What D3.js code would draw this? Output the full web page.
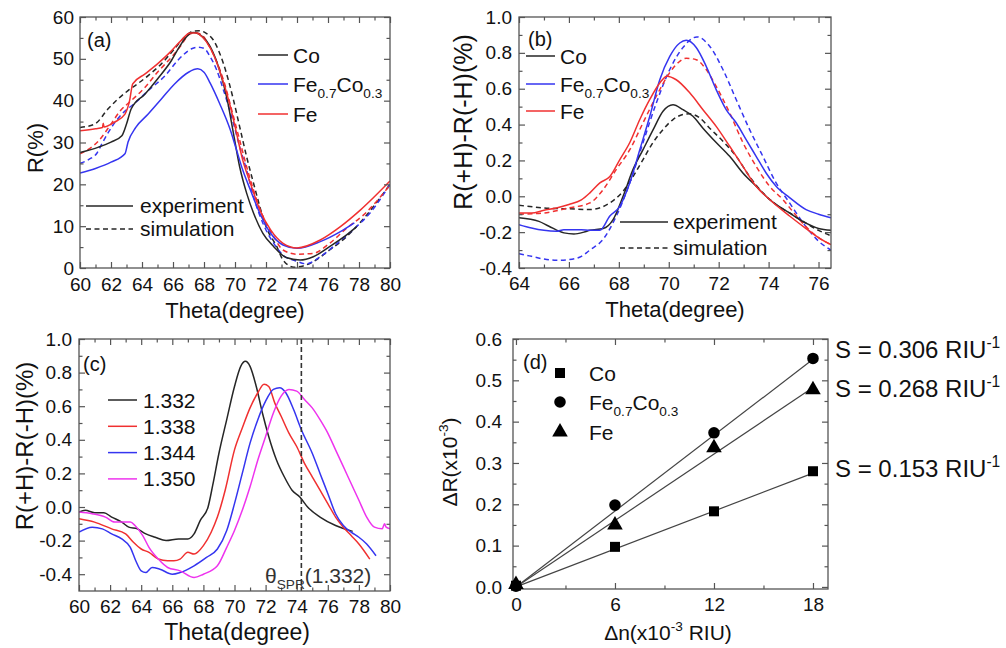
<!DOCTYPE html>
<html>
<head>
<meta charset="utf-8">
<script src="https://cdn.jsdelivr.net/npm/d3@7"></script>
<style>
    body { margin: 0; background: #fff; }
    svg { font-family: "Liberation Sans", Arial, Helvetica, sans-serif; }
</style>
</head>
<body>
<svg id="fig" width="1006" height="648"></svg>
<script>
// ---- panel (a): reflectivity R(%) vs theta, [theta, R]
const coExpA = [[60,27.6],[61.2,28.9],[62,30.1],[62.7,31.6],[63,34.4],[63.3,38],[64.2,41.6],[65,45.2],[65.9,49.6],
    [66.4,52.8],[66.8,55],[67.3,56.3],[67.9,55.3],[68.4,52.9],[69,47.3],[69.5,40.2],[69.9,32.2],[70.3,24.2],[70.75,17.9],
    [71.2,13.1],[71.8,8.3],[72.5,5.1],[73.3,2.5],[74.2,1.9],[75.05,2.7],[76.1,5.1],[77.2,7.9],[77.85,9.9]];
const coSimA = [[60,33.6],[60.95,34.4],[61.8,38],[62.45,40.4],[63.1,42.4],[63.7,44],[64.4,46],[65.25,48.8],[66.1,52.4],
    [66.75,55.2],[67.3,56.6],[67.7,56.7],[68.1,56.2],[68.6,54.5],[69.25,48.9],[69.9,40.2],[70.3,33.8],[70.75,26.6],
    [71.2,20.2],[71.6,14.7],[72,9.9],[72.7,5.1],[73.1,1.9],[73.8,0.2],[74.4,0.5],[75.05,1.5],[76.1,4.3],[77.2,7.5],
    [78.5,12.7],[80,20]];
const feCoExpA = [[60,22.7],[61,23.8],[62,25.3],[62.9,27.3],[63.1,30.1],[63.6,33.6],[64.4,36.8],[65.25,40.4],[66.1,44],
    [67,46.8],[67.6,47.6],[68,46.8],[68.4,44.2],[69,39.4],[69.7,33],[70.1,28.2],[70.5,23.4],[71,18.6],[71.6,13.1],
    [72.3,8.3],[73.1,5.5],[74,4.7],[75.5,6.3],[76.8,8.7],[77.7,10.8]];
const feCoSimA = [[60,25],[60.6,26],[61.1,27.5],[61.4,29.6],[62.1,34],[62.7,36.8],[63.6,39.6],[64.4,42.4],[65.5,46],
    [66.3,49.6],[67.2,52.4],[67.6,52.8],[68,52.5],[68.4,50.5],[68.8,47.5],[69.25,42.6],[69.9,34.6],[70.3,29],[70.75,23.4],
    [71.2,17],[71.8,10.7],[72.5,5.9],[73.1,3.1],[74,1.6],[74.6,1],[75.5,2.7],[76.6,5.9],[77.6,9.1],[78.7,13.1],[80,20]];
const feExpA = [[60,32.8],[61,33.3],[61.45,33.6],[61.5,34.6],[61.55,33.7],[62.2,34.8],[62.9,36.8],[63.2,40],[63.4,44],
    [64.2,46.4],[65,48.8],[65.9,51.9],[66.5,54.3],[67.1,56.2],[67.5,56.2],[67.9,55.2],[68.4,52.6],[69,47.3],[69.7,38.6],
    [70.1,32.2],[70.5,25.8],[71,20.2],[71.6,13.9],[72.3,9.1],[73.1,5.9],[74,4.8],[75.5,6.7],[76.8,9.9],[78.1,13.9],[80,20.8]];
const feSimA = [[60,27.3],[61.2,30.4],[62,34.4],[62.6,37.6],[63.3,40],[64.2,43.2],[65,46.8],[65.9,50.4],[66.5,53.1],
    [67.1,56],[67.5,56.2],[67.9,55.6],[68.4,52.6],[69.25,45],[69.9,36.2],[70.3,30.6],[70.75,24.2],[71.2,18.6],[71.8,12.3],
    [72.5,7.5],[73.1,4.3],[74,3.3],[75.05,3.5],[76.1,5.9],[77.2,9.5],[78.3,12.7],[80,19.8]];

// ---- panel (b): R(+H)-R(-H) (%) vs theta
const coExpB = [[64,-0.12],[64.8,-0.14],[65.2,-0.167],[65.8,-0.204],[66.2,-0.21],[66.6,-0.2],[66.84,-0.19],[67.37,-0.18],
    [67.77,-0.13],[68.17,0.0],[68.57,0.15],[68.97,0.26],[69.37,0.37],[69.77,0.474],[70.17,0.51],[70.57,0.483],[70.97,0.446],
    [71.37,0.38],[71.9,0.30],[72.44,0.223],[72.97,0.13],[73.5,0.056],[74.04,-0.018],[74.84,-0.093],[75.5,-0.15],[76,-0.18],[76.5,-0.19]];
const coSimB = [[64,-0.05],[65,-0.065],[66,-0.07],[66.84,-0.074],[67.64,-0.037],[68.17,0.028],[68.57,0.11],[68.97,0.205],
    [69.37,0.30],[69.77,0.372],[70.17,0.428],[70.57,0.456],[70.84,0.46],[71.24,0.437],[71.64,0.38],[72.17,0.307],[72.7,0.223],
    [73.24,0.11],[73.77,0.019],[74.3,-0.046],[74.84,-0.093],[75.5,-0.15],[76,-0.19],[76.5,-0.22]];
const feCoExpB = [[64,-0.158],[64.5,-0.177],[65,-0.19],[65.5,-0.195],[65.8,-0.186],[66.5,-0.186],[66.84,-0.19],[67.24,-0.19],
    [67.64,-0.11],[68.04,-0.056],[68.44,0.075],[68.84,0.26],[69.24,0.446],[69.64,0.65],[70.04,0.78],[70.44,0.855],[70.7,0.87],
    [71.1,0.83],[71.5,0.725],[71.9,0.595],[72.3,0.483],[72.7,0.41],[73.1,0.316],[73.5,0.223],[73.9,0.13],[74.3,0.056],
    [74.84,-0.007],[75.5,-0.074],[76,-0.10],[76.5,-0.12]];
const feCoSimB = [[64,-0.32],[64.5,-0.335],[65,-0.35],[65.5,-0.357],[66,-0.353],[66.5,-0.335],[66.84,-0.30],[67.37,-0.24],
    [67.9,-0.11],[68.44,0.075],[68.97,0.30],[69.5,0.52],[70.04,0.707],[70.57,0.83],[71.13,0.889],[71.64,0.837],[72.17,0.707],
    [72.7,0.54],[73.24,0.372],[73.77,0.223],[74.3,0.075],[74.84,-0.037],[75.5,-0.17],[76,-0.25],[76.5,-0.30]];
const feExpB = [[64,-0.093],[64.5,-0.093],[65,-0.078],[65.5,-0.065],[66,-0.046],[66.5,-0.02],[66.84,0.019],[67.24,0.075],
    [67.64,0.11],[68.04,0.205],[68.44,0.30],[68.84,0.428],[69.24,0.54],[69.64,0.632],[69.93,0.67],[70.3,0.65],[70.84,0.577],
    [71.37,0.483],[71.9,0.39],[72.44,0.279],[72.97,0.167],[73.5,0.056],[74.04,-0.018],[74.84,-0.11],[75.5,-0.18],[76,-0.23],[76.5,-0.27]];
const feSimB = [[64,-0.10],[65,-0.093],[66,-0.065],[66.84,-0.037],[67.37,0.037],[67.9,0.15],[68.44,0.26],[68.97,0.41],
    [69.5,0.558],[70.04,0.69],[70.44,0.753],[70.7,0.77],[71.1,0.762],[71.5,0.707],[71.9,0.613],[72.44,0.465],[72.97,0.30],
    [73.5,0.167],[74.04,0.056],[74.57,-0.018],[75,-0.09],[75.5,-0.17],[76,-0.23],[76.5,-0.27]];

// ---- panel (c): refractive index series
const indexLabels = ['1.332', '1.338', '1.344', '1.350'];
const n1332 = [[60,-0.03],[60.4,-0.02],[61,-0.034],[61.6,-0.034],[62.1,-0.06],[62.75,-0.09],[63.2,-0.12],[63.75,-0.13],
    [64.3,-0.16],[64.9,-0.18],[65.6,-0.2],[66.4,-0.19],[67,-0.19],[67.4,-0.16],[67.8,-0.08],[68.3,0.0],[68.6,0.13],[69,0.32],
    [69.5,0.52],[70,0.717],[70.4,0.837],[70.7,0.867],[71,0.837],[71.4,0.717],[71.8,0.558],[72.2,0.42],[72.7,0.28],[73.2,0.18],
    [73.7,0.10],[74.2,0.06],[74.7,0.0],[75.5,-0.06],[76.5,-0.11],[77.6,-0.145]];
const n1338 = [[60,-0.07],[61,-0.09],[62.1,-0.13],[63,-0.16],[63.5,-0.21],[64,-0.25],[64.5,-0.27],[65.1,-0.31],[65.7,-0.32],
    [66.1,-0.32],[66.5,-0.31],[67,-0.27],[67.4,-0.28],[68,-0.23],[68.5,-0.15],[68.9,-0.06],[69.4,0.10],[70,0.34],[70.5,0.47],
    [71,0.59],[71.5,0.68],[71.9,0.73],[72.2,0.717],[72.6,0.617],[73,0.54],[73.5,0.44],[74,0.36],[74.5,0.26],[75,0.18],
    [75.5,0.1],[76,0.02],[76.5,-0.06],[77,-0.12],[77.5,-0.17],[78,-0.22],[78.7,-0.31]];
const n1344 = [[60,-0.15],[60.85,-0.12],[61.5,-0.13],[62.1,-0.16],[62.75,-0.19],[63.3,-0.24],[63.65,-0.32],[64,-0.38],
    [64.3,-0.39],[64.7,-0.36],[65.2,-0.37],[66,-0.40],[66.5,-0.39],[67.4,-0.35],[68.2,-0.30],[68.9,-0.25],[69.5,-0.14],
    [70,0.02],[70.5,0.2],[71,0.38],[71.5,0.52],[72,0.63],[72.5,0.70],[72.9,0.71],[73.3,0.68],[73.8,0.58],[74.3,0.46],
    [75,0.32],[75.5,0.2],[76,0.08],[76.5,-0.04],[77,-0.11],[77.5,-0.15],[78,-0.18],[78.5,-0.22],[79.1,-0.29]];
const n1350 = [[60,-0.03],[60.85,-0.04],[61.7,-0.06],[62.3,-0.09],[63,-0.09],[63.3,-0.09],[63.6,-0.11],[64.1,-0.17],
    [64.5,-0.24],[65.1,-0.31],[65.7,-0.36],[66.5,-0.38],[67.4,-0.42],[68,-0.40],[68.9,-0.35],[69.5,-0.24],[70,-0.14],
    [70.5,-0.02],[71,0.12],[71.5,0.28],[72,0.42],[72.5,0.56],[73,0.66],[73.5,0.70],[74,0.69],[74.5,0.64],[75,0.59],
    [75.5,0.52],[76,0.44],[76.5,0.34],[77,0.24],[77.5,0.14],[78,0.04],[78.5,-0.06],[79,-0.12],[79.5,-0.13],[79.65,-0.10],
    [79.75,-0.12],[80,-0.13]];
const thetaSpr = 74.3;

// ---- panel (d): sensitivity
const deltaN = [0, 6, 12, 18];
const coDR = [0.003, 0.097, 0.183, 0.28];
const feCoDR = [0.002, 0.198, 0.373, 0.553];
const feDR = [0.006, 0.15, 0.337, 0.477];
const slopes = [0.153, 0.306, 0.268];   // RIU^-1, Co / Fe0.7Co0.3 / Fe

const C_BLACK = '#262626', C_BLUE = '#3535f0', C_RED = '#f03030', C_MAG = '#ee33ee';
const FRAME = '#555';

const svg = d3.select('#fig');
svg.append('rect').attr('width', 1006).attr('height', 648).attr('fill', '#fff');

let clipCount = 0;
const step = (a, b, s, k) => d3.range(a, b + s / 2, s).map(v => +(v / k).toFixed(4));

function makePanel(box, xDomain, yDomain, ticks) {
    const x = d3.scaleLinear().domain(xDomain).range([box.left, box.right]);
    const y = d3.scaleLinear().domain(yDomain).range([box.bottom, box.top]);
    const g = svg.append('g');
    const clipId = 'clip' + (clipCount++);
    svg.append('clipPath').attr('id', clipId).append('rect')
        .attr('x', box.left).attr('y', box.top)
        .attr('width', box.right - box.left).attr('height', box.bottom - box.top);
    const plot = g.append('g').attr('clip-path', `url(#${clipId})`);
    const axes = g.append('g');

    const none = () => '';
    const addAxis = (axisFn, scale, values, size, fmt, tx, ty, pad) => {
        const a = axes.append('g')
            .attr('transform', `translate(${tx},${ty})`)
            .call(axisFn(scale).tickValues(values).tickSize(-size).tickPadding(pad).tickFormat(fmt || none));
        a.select('.domain').remove();
        a.attr('font-family', null).attr('font-size', 19).attr('color', FRAME);
        a.selectAll('text').attr('fill', '#111');
        a.selectAll('line').attr('stroke-width', 1.2);
    };
    addAxis(d3.axisBottom, x, ticks.xMajor, 6, ticks.xFmt, 0, box.bottom, ticks.xPad || 8.5);
    addAxis(d3.axisBottom, x, ticks.xMinor, 3.5, null, 0, box.bottom, 0);
    addAxis(d3.axisTop, x, ticks.xMajor, 6, null, 0, box.top, 0);
    addAxis(d3.axisTop, x, ticks.xMinor, 3.5, null, 0, box.top, 0);
    addAxis(d3.axisLeft, y, ticks.yMajor, 6, ticks.yFmt, box.left, 0, ticks.yPad);
    addAxis(d3.axisLeft, y, ticks.yMinor, 3.5, null, box.left, 0, 0);
    addAxis(d3.axisRight, y, ticks.yMajor, 6, null, box.right, 0, 0);
    addAxis(d3.axisRight, y, ticks.yMinor, 3.5, null, box.right, 0, 0);

    axes.append('rect')
        .attr('x', box.left).attr('y', box.top)
        .attr('width', box.right - box.left).attr('height', box.bottom - box.top)
        .attr('fill', 'none').attr('stroke', FRAME).attr('stroke-width', 1.3);

    return {g, plot, axes, x, y, box};
}

function drawCurve(p, data, color, dashed) {
    p.plot.append('path')
        .datum(data)
        .attr('fill', 'none')
        .attr('stroke', color)
        .attr('stroke-width', 1.5)
        .attr('stroke-dasharray', dashed ? '5,3.5' : null)
        .attr('d', d3.line()
            .x(d => p.x(d[0]))
            .y(d => p.y(d[1]))
            .curve(d3.curveMonotoneX));
}

// text with sub/superscript parts: [[str, 'sub'|'sup'|null], ...]
function richText(parent, x, y, parts, size, opts = {}) {
    const t = parent.append('text')
        .attr('x', x).attr('y', y)
        .attr('font-size', size)
        .attr('fill', opts.fill || '#111')
        .attr('text-anchor', opts.anchor || 'start');
    if (opts.rotate) t.attr('transform', `rotate(-90,${x},${y})`);
    let off = 0;
    parts.forEach(([s, kind]) => {
        const target = kind === 'sub' ? size * 0.3 : kind === 'sup' ? -size * 0.42 : 0;
        t.append('tspan')
            .attr('dy', target - off)
            .attr('font-size', kind ? size * 0.65 : size)
            .text(s);
        off = target;
    });
    return t;
}

function legendLine(parent, x1, x2, y, color, dashed) {
    parent.append('line')
        .attr('x1', x1).attr('x2', x2).attr('y1', y).attr('y2', y)
        .attr('stroke', color).attr('stroke-width', 1.5)
        .attr('stroke-dasharray', dashed ? '5,3.5' : null);
}

const fmtInt = d => String(d);
const fmt1 = d => d.toFixed(1);
const feCoParts = [['Fe'], ['0.7', 'sub'], ['Co'], ['0.3', 'sub']];
const thetaTitle = [['Theta(degree)']];
const mokeTitle = [['R(+H)-R(-H)(%)']];

// ================= (a)
const pa = makePanel({left: 80, right: 390, top: 17, bottom: 268}, [60, 80], [0, 60], {
    xMajor: step(60, 80, 2, 1), xMinor: step(61, 79, 2, 1), xFmt: fmtInt, xPad: 10,
    yMajor: step(0, 60, 10, 1), yMinor: step(5, 55, 10, 1), yFmt: fmtInt, yPad: 6
});
drawCurve(pa, coSimA, C_BLACK, true);
drawCurve(pa, feCoSimA, C_BLUE, true);
drawCurve(pa, feSimA, C_RED, true);
drawCurve(pa, coExpA, C_BLACK, false);
drawCurve(pa, feCoExpA, C_BLUE, false);
drawCurve(pa, feExpA, C_RED, false);

richText(pa.g, 87, 47, [['(a)']], 20);
[[55, C_BLACK, [['Co']]], [84, C_BLUE, feCoParts], [114, C_RED, [['Fe']]]].forEach(([ly, c, parts]) => {
    legendLine(pa.g, 258, 288, ly, c, false);
    richText(pa.g, 293, ly + 7.5, parts, 21);
});
legendLine(pa.g, 86, 133, 206, C_BLACK, false);
richText(pa.g, 140, 213, [['experiment']], 21);
legendLine(pa.g, 86, 133, 229, C_BLACK, true);
richText(pa.g, 140, 236, [['simulation']], 21);
richText(pa.g, 235, 318, thetaTitle, 22, {anchor: 'middle'});
richText(pa.g, 43, 148, [['R(%)']], 22, {anchor: 'middle', rotate: true});

// ================= (b)
const pb = makePanel({left: 519, right: 831, top: 17, bottom: 268}, [64, 76.5], [-0.4, 1.0], {
    xMajor: step(64, 76, 2, 1), xMinor: step(65, 75, 2, 1), xFmt: fmtInt, xPad: 9,
    yMajor: step(-4, 10, 2, 10), yMinor: step(-3, 9, 2, 10), yFmt: fmt1, yPad: 7
});
drawCurve(pb, coSimB, C_BLACK, true);
drawCurve(pb, feCoSimB, C_BLUE, true);
drawCurve(pb, feSimB, C_RED, true);
drawCurve(pb, coExpB, C_BLACK, false);
drawCurve(pb, feCoExpB, C_BLUE, false);
drawCurve(pb, feExpB, C_RED, false);

richText(pb.g, 528, 46, [['(b)']], 20);
[[56, C_BLACK, [['Co']]], [84, C_BLUE, feCoParts], [111, C_RED, [['Fe']]]].forEach(([ly, c, parts]) => {
    legendLine(pb.g, 526, 555, ly, c, false);
    richText(pb.g, 560, ly + 7.5, parts, 21);
});
legendLine(pb.g, 620, 668, 222, C_BLACK, false);
richText(pb.g, 673, 229, [['experiment']], 21);
legendLine(pb.g, 620, 668, 248, C_BLACK, true);
richText(pb.g, 673, 255, [['simulation']], 21);
richText(pb.g, 675, 317, thetaTitle, 22, {anchor: 'middle'});
richText(pb.g, 472, 122, mokeTitle, 25, {anchor: 'middle', rotate: true});

// ================= (c)
const pc = makePanel({left: 79, right: 390, top: 339, bottom: 591}, [60, 80], [-0.5, 1.0], {
    xMajor: step(60, 80, 2, 1), xMinor: step(61, 79, 2, 1), xFmt: fmtInt,
    yMajor: step(-4, 10, 2, 10), yMinor: step(-3, 9, 2, 10), yFmt: fmt1, yPad: 7
});
const seriesC = [n1332, n1338, n1344, n1350];
const colorsC = [C_BLACK, C_RED, C_BLUE, C_MAG];
seriesC.forEach((s, i) => drawCurve(pc, s, colorsC[i], false));

pc.plot.append('line')
    .attr('x1', pc.x(thetaSpr)).attr('x2', pc.x(thetaSpr))
    .attr('y1', pc.box.top).attr('y2', pc.box.bottom)
    .attr('stroke', '#333').attr('stroke-width', 1.6).attr('stroke-dasharray', '5,3');

richText(pc.g, 83, 371, [['(c)']], 20);
indexLabels.forEach((lab, i) => {
    const ly = 400 + i * 26.3;
    legendLine(pc.g, 108, 137, ly, colorsC[i], false);
    richText(pc.g, 143, ly + 7.5, [[lab]], 21);
});
richText(pc.g, 265, 583, [['θ'], ['SPR', 'sub'], ['(1.332)']], 21, {fill: '#333'});
richText(pc.g, 237, 640, thetaTitle, 23, {anchor: 'middle'});
richText(pc.g, 33, 446, mokeTitle, 24, {anchor: 'middle', rotate: true});

// ================= (d)
const pd = makePanel({left: 513, right: 828, top: 339, bottom: 589}, [-0.18, 18.91], [-0.005, 0.6], {
    xMajor: deltaN, xMinor: [3, 9, 15], xFmt: fmtInt,
    yMajor: step(0, 6, 1, 10), yMinor: step(0.5, 5.5, 1, 10), yFmt: fmt1, yPad: 11
});
const seriesD = [coDR, feCoDR, feDR];
const symbolsD = [d3.symbolSquare, d3.symbolCircle, d3.symbolTriangle];
const symSizes = [100, 105, 105];

// fitted lines through the origin
slopes.forEach(s => {
    pd.plot.append('line')
        .attr('x1', pd.x(0)).attr('y1', pd.y(0))
        .attr('x2', pd.x(18)).attr('y2', pd.y(s * 18 / 10))
        .attr('stroke', '#444').attr('stroke-width', 1.2);
});
seriesD.forEach((vals, i) => {
    pd.g.selectAll(null)
        .data(vals.map((v, j) => [deltaN[j], v]))
        .enter()
        .append('path')
        .attr('transform', d => `translate(${pd.x(d[0])},${pd.y(d[1])})`)
        .attr('d', d3.symbol().type(symbolsD[i]).size(symSizes[i]))
        .attr('fill', '#000');
});

richText(pd.g, 523, 369, [['(d)']], 20);
const legendD = [[373, [['Co']]], [402, feCoParts], [432, [['Fe']]]];
legendD.forEach(([ly, parts], i) => {
    pd.g.append('path')
        .attr('transform', `translate(560,${ly})`)
        .attr('d', d3.symbol().type(symbolsD[i]).size(symSizes[i]))
        .attr('fill', '#000');
    richText(pd.g, 589, ly + 7.5, parts, 21);
});

const sBaselines = [477, 358, 397];
slopes.forEach((s, i) => {
    richText(pd.g, 835, sBaselines[i], [[`S = ${s.toFixed(3)} RIU`], ['-1', 'sup']], 24);
});
richText(pd.g, 668, 640, [['Δn(x10'], ['-3', 'sup'], [' RIU)']], 21, {anchor: 'middle'});
richText(pd.g, 457, 462, [['ΔR(x10'], ['-3', 'sup'], [')']], 21, {anchor: 'middle', rotate: true});
</script>
</body>
</html>
